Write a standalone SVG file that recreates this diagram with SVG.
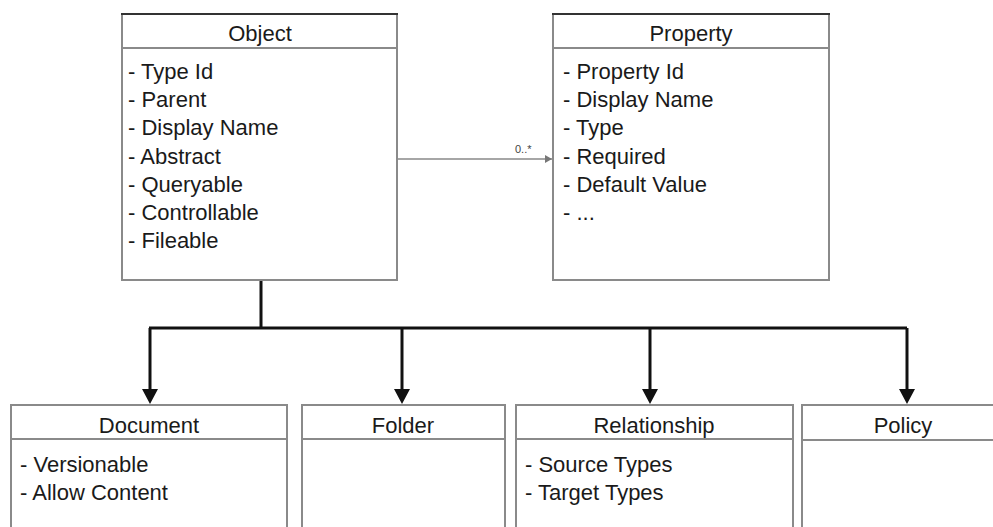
<svg xmlns="http://www.w3.org/2000/svg" width="993" height="527" viewBox="0 0 993 527">
<style>
.box{fill:#fff;stroke:#8a8a8a;stroke-width:2}
.top{stroke:#333;stroke-width:2}
.sep{stroke:#8a8a8a;stroke-width:2}
.t{font-family:"Liberation Sans",Arial,sans-serif;font-size:22px;fill:#1a1a1a}
.h{text-anchor:middle}
.conn{fill:none;stroke:#111;stroke-width:3}
.assoc{fill:none;stroke:#888;stroke-width:1.5}
.lbl{font-family:"Liberation Sans",Arial,sans-serif;font-size:11px;fill:#444}
</style>
<defs>
<marker id="sa" markerUnits="userSpaceOnUse" markerWidth="8" markerHeight="8" refX="7" refY="4" orient="auto" viewBox="0 0 8 8">
<path d="M0 0 L7 4 L0 8 Z" fill="#777"/>
</marker>
</defs>

<g id="connectors">
<path class="conn" d="M261 280 V328 M149 328 H907"/>
<path class="conn" d="M150 328 V390"/>
<path class="conn" d="M402 328 V390"/>
<path class="conn" d="M650 328 V390"/>
<path class="conn" d="M907 328 V390"/>
<path d="M142 389 L158 389 L150 404 Z M394 389 L410 389 L402 404 Z M642 389 L658 389 L650 404 Z M899 389 L915 389 L907 404 Z" fill="#111"/>
<path class="assoc" d="M398 159 H552" marker-end="url(#sa)"/>
<text class="lbl" x="515" y="153">0..*</text>
</g>

<g id="object">
<rect class="box" x="122" y="14" width="275" height="266"/>
<line class="top" x1="121" y1="14" x2="398" y2="14"/>
<line class="sep" x1="122" y1="48" x2="397" y2="48"/>
<text class="t h" x="260" y="41">Object</text>
<text class="t" x="128" y="79">- Type Id</text>
<text class="t" x="128" y="107">- Parent</text>
<text class="t" x="128" y="135">- Display Name</text>
<text class="t" x="128" y="164">- Abstract</text>
<text class="t" x="128" y="192">- Queryable</text>
<text class="t" x="128" y="220">- Controllable</text>
<text class="t" x="128" y="248">- Fileable</text>
</g>

<g id="property">
<rect class="box" x="553" y="14" width="276" height="266"/>
<line class="top" x1="552" y1="14" x2="830" y2="14"/>
<line class="sep" x1="553" y1="48" x2="829" y2="48"/>
<text class="t h" x="691" y="41">Property</text>
<text class="t" x="563" y="79">- Property Id</text>
<text class="t" x="563" y="107">- Display Name</text>
<text class="t" x="563" y="135">- Type</text>
<text class="t" x="563" y="164">- Required</text>
<text class="t" x="563" y="192">- Default Value</text>
<text class="t" x="563" y="220">- ...</text>
</g>

<g id="document">
<rect class="box" x="11" y="405" width="276" height="140"/>
<line class="sep" x1="11" y1="439" x2="287" y2="439"/>
<text class="t h" x="149" y="433">Document</text>
<text class="t" x="20" y="472">- Versionable</text>
<text class="t" x="20" y="500">- Allow Content</text>
</g>

<g id="folder">
<rect class="box" x="302" y="405" width="203" height="140"/>
<line class="sep" x1="302" y1="439" x2="505" y2="439"/>
<text class="t h" x="403" y="433">Folder</text>
</g>

<g id="relationship">
<rect class="box" x="516" y="405" width="277" height="140"/>
<line class="sep" x1="516" y1="439" x2="793" y2="439"/>
<text class="t h" x="654" y="433">Relationship</text>
<text class="t" x="525" y="472">- Source Types</text>
<text class="t" x="525" y="500">- Target Types</text>
</g>

<g id="policy">
<rect class="box" x="802" y="405" width="202" height="140"/>
<line class="sep" x1="802" y1="440" x2="1004" y2="440"/>
<text class="t h" x="903" y="433">Policy</text>
</g>
</svg>
